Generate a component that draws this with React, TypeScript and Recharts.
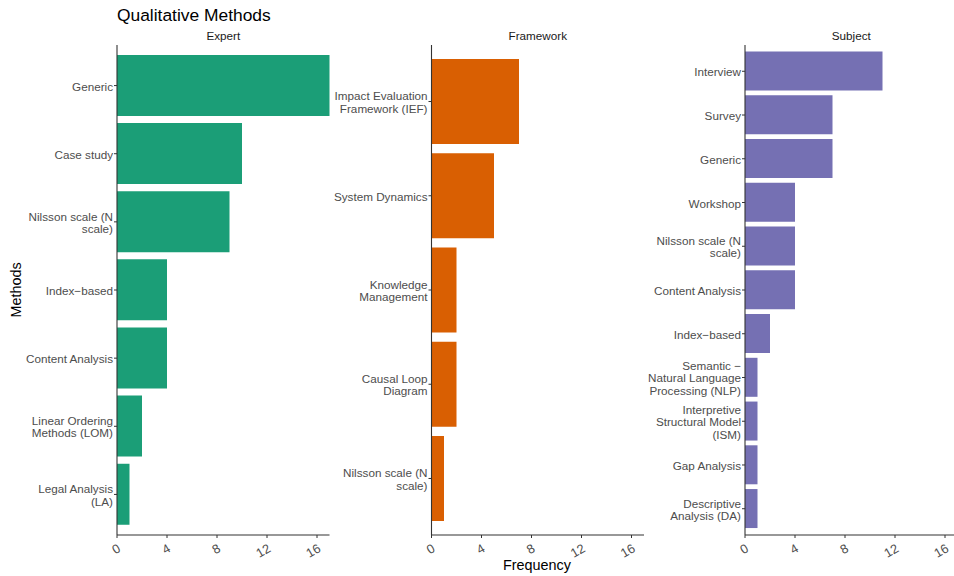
import React from "react";
import { BarChart, Bar, XAxis, YAxis } from "recharts";

// counts per method, one list per facet (top to bottom)
const expertMethods = [
  "Generic",
  "Case study",
  "Nilsson scale (N\nscale)",
  "Index−based",
  "Content Analysis",
  "Linear Ordering\nMethods (LOM)",
  "Legal Analysis\n(LA)",
];
const expertCounts = [17, 10, 9, 4, 4, 2, 1];

const frameworkMethods = [
  "Impact Evaluation\nFramework (IEF)",
  "System Dynamics",
  "Knowledge\nManagement",
  "Causal Loop\nDiagram",
  "Nilsson scale (N\nscale)",
];
const frameworkCounts = [7, 5, 2, 2, 1];

const subjectMethods = [
  "Interview",
  "Survey",
  "Generic",
  "Workshop",
  "Nilsson scale (N\nscale)",
  "Content Analysis",
  "Index−based",
  "Semantic −\nNatural Language\nProcessing (NLP)",
  "Interpretive\nStructural Model\n(ISM)",
  "Gap Analysis",
  "Descriptive\nAnalysis (DA)",
];
const subjectCounts = [11, 7, 7, 4, 4, 4, 2, 1, 1, 1, 1];

const freqTicks = [0, 4, 8, 12, 16];

const FONT = "'Liberation Sans', Arial, Helvetica, sans-serif";
const TEXT_GREY = "#4d4d4d";
const AXIS = "#333333";

const PLOT_W = 212.5;
const PLOT_TOP = 45;
const PLOT_BOTTOM = 535;
const X_AXIS_H = 30;

const toRows = (names: string[], counts: number[]) =>
  names.map((name, i) => ({ name, count: counts[i] }));

const MethodTick = ({ x, y, payload }: any) => {
  const lines = String(payload.value).split("\n");
  const lh = 12.3;
  const y0 = y - ((lines.length - 1) * lh) / 2;
  return (
    <text
      x={x}
      y={y0}
      textAnchor="end"
      fill={TEXT_GREY}
      fontSize={11.7}
      fontFamily={FONT}
      dominantBaseline="central"
    >
      {lines.map((l, i) => (
        <tspan key={i} x={x} y={y0 + i * lh}>
          {l}
        </tspan>
      ))}
    </text>
  );
};

const FreqTick = ({ x, y, payload }: any) => {
  const ax = x;
  const ay = y + 4;
  return (
    <text
      x={ax}
      y={ay}
      textAnchor="end"
      fill={TEXT_GREY}
      fontSize={12.8}
      fontFamily={FONT}
      dy="0.71em"
      transform={`rotate(-30, ${ax}, ${ay})`}
    >
      {payload.value}
    </text>
  );
};

function Facet({ left, axisWidth, rows, color, pad }: any) {
  return (
    <div style={{ position: "absolute", left, top: 0 }}>
      <BarChart
        width={axisWidth + PLOT_W}
        height={576}
        data={rows}
        layout="vertical"
        barCategoryGap="5%"
        margin={{ top: PLOT_TOP, right: 0, bottom: 576 - PLOT_BOTTOM - X_AXIS_H, left: 0 }}
      >
        <XAxis
          type="number"
          domain={[0, 17]}
          ticks={freqTicks}
          height={X_AXIS_H}
          tickSize={3}
          tickMargin={1}
          stroke={AXIS}
          axisLine={{ stroke: AXIS, strokeWidth: 1.1 }}
          tickLine={{ stroke: AXIS }}
          tick={<FreqTick />}
          interval={0}
        />
        <YAxis
          type="category"
          dataKey="name"
          width={axisWidth}
          tickSize={3}
          tickMargin={1}
          padding={{ top: pad, bottom: pad }}
          axisLine={{ stroke: AXIS, strokeWidth: 1.1 }}
          tickLine={{ stroke: AXIS }}
          tick={<MethodTick />}
          interval={0}
        />
        <Bar dataKey="count" fill={color} isAnimationActive={false} />
      </BarChart>
    </div>
  );
}

export default function App() {
  return (
    <div
      style={{
        position: "absolute",
        left: 0,
        top: 0,
        width: 954,
        height: 576,
        overflow: "hidden",
        background: "#ffffff",
        fontFamily: FONT,
      }}
    >
      <Facet left={0} axisWidth={117} rows={toRows(expertMethods, expertCounts)} color="#1b9e77" pad={6.5} />
      <Facet left={330} axisWidth={101.5} rows={toRows(frameworkMethods, frameworkCounts)} color="#d95f02" pad={9.4} />
      <Facet left={643} axisWidth={102} rows={toRows(subjectMethods, subjectCounts)} color="#7570b3" pad={4.4} />

      <svg
        width={954}
        height={576}
        style={{ position: "absolute", left: 0, top: 0, pointerEvents: "none" }}
        fontFamily={FONT}
      >
        <text x={117} y={21} fontSize={17.4} fill="#000">
          Qualitative Methods
        </text>
        <text x={223.3} y={40} fontSize={11.7} fill="#1a1a1a" textAnchor="middle">
          Expert
        </text>
        <text x={537.8} y={40} fontSize={11.7} fill="#1a1a1a" textAnchor="middle">
          Framework
        </text>
        <text x={851.3} y={40} fontSize={11.7} fill="#1a1a1a" textAnchor="middle">
          Subject
        </text>
        <text x={537} y={570} fontSize={14.4} fill="#000" textAnchor="middle">
          Frequency
        </text>
        <text
          x={20.5}
          y={290}
          fontSize={14.4}
          fill="#000"
          textAnchor="middle"
          transform="rotate(-90, 20.5, 290)"
        >
          Methods
        </text>
      </svg>
    </div>
  );
}
